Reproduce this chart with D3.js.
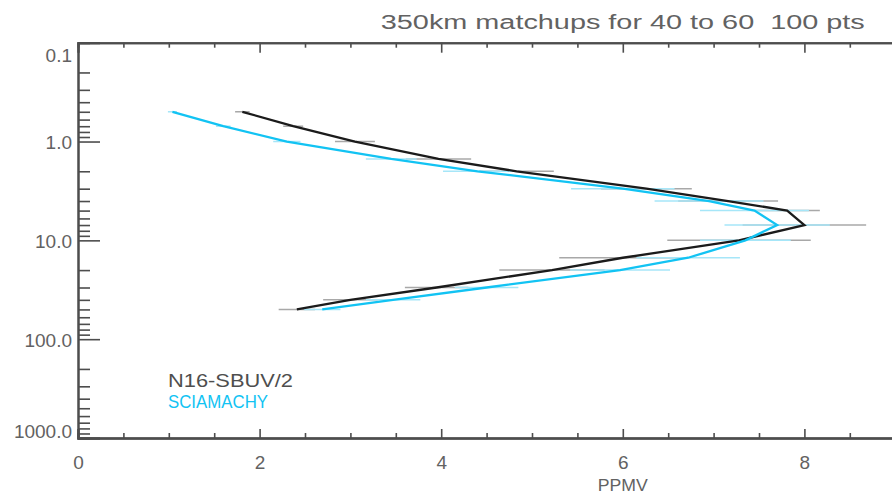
<!DOCTYPE html>
<html>
<head>
<meta charset="utf-8">
<script src="https://cdn.jsdelivr.net/npm/d3@7/dist/d3.min.js"></script>
<style>
  html, body { margin: 0; padding: 0; background: #fff; }
  svg { display: block; }
  text { font-family: "Liberation Sans", "DejaVu Sans", sans-serif; fill: #626262; white-space: pre; }
</style>
</head>
<body>
<svg id="chart" width="892" height="496"></svg>
<script>
// Ozone profile comparison: mean mixing ratio (ppmv) vs pressure (hPa) with ±1σ bars
const pressure = [0.5, 0.7, 1, 1.5, 2, 3, 4, 5, 7, 10, 15, 20, 30, 40, 50];
const sbuvMean = [1.81, 2.37, 3.05, 3.97, 4.83, 6.26, 7.16, 7.81, 8.0, 7.28, 6.0, 5.22, 3.95, 3.0, 2.41];
const sbuvSd   = [0.08, 0.11, 0.22, 0.36, 0.41, 0.5, 0.55, 0.36, 0.68, 0.79, 0.7, 0.58, 0.35, 0.3, 0.2];
const sciaMean = [1.04, 1.6, 2.3, 3.45, 4.4, 6.0, 6.95, 7.45, 7.7, 7.35, 6.72, 5.97, 4.5, 3.47, 2.69];
const sciaSd   = [0.05, 0.08, 0.15, 0.28, 0.38, 0.57, 0.6, 0.6, 0.58, 0.5, 0.57, 0.55, 0.35, 0.3, 0.2];

const seriesNames = ["N16-SBUV/2", "SCIAMACHY"];
const pressureTicks = [0.1, 1, 10, 100, 1000];
const ppmvTicks = [0, 2, 4, 6, 8];
const ppmvTicksBeyond = [10, 12];
const titleText = "350km matchups for 40 to 60  100 pts";
const xTitle = "PPMV";

const lineColors = ["#1b1b1b", "#12c3f3"];
const barColors = ["#a8a8a8", "#a6e6f8"];
const axisColor = "#4d4d4d";
const textColor = "#626262";

const svg = d3.select("#chart");

// Plot frame: the x axis spans 0–12 ppmv; its right part runs past the window edge.
const plotLeft = 78, plotTop = 42.7, plotBottom = 438, unit = 90.8;
const x = d3.scaleLinear().domain([0, 12]).range([plotLeft, plotLeft + 12 * unit]);
const y = d3.scaleLog().domain([0.1, 1000]).range([plotTop, plotBottom]);

// minor ticks
const minorP = [];
for (let d = 0.1; d < 1000; d *= 10) for (let k = 2; k <= 9; k++) minorP.push(+(d * k).toPrecision(3));
const minorX = d3.range(0, 12.01, 0.5).filter(v => v % 2 !== 0);

function styleAxis(g) {
  g.select(".domain").attr("stroke", axisColor).attr("stroke-width", 2);
  g.selectAll(".tick line").attr("stroke", axisColor).attr("stroke-width", 1.6);
  g.selectAll("text").attr("fill", textColor).attr("font-size", 19)
    .attr("font-family", '"Liberation Sans", "DejaVu Sans", sans-serif');
}

// left axis
svg.append("g").attr("transform", `translate(${plotLeft},0)`)
  .call(d3.axisLeft(y).tickValues(minorP).tickSize(-12).tickFormat(""))
  .call(styleAxis);
const yAxis = svg.append("g").attr("transform", `translate(${plotLeft},0)`)
  .call(d3.axisLeft(y).tickValues(pressureTicks).tickSize(-22).tickPadding(6).tickFormat(d3.format(".1f")))
  .call(styleAxis);
yAxis.selectAll(".tick text")
  .attr("dy", d => d === 0.1 ? "1.0em" : d === 1000 ? "-0.05em" : "0.36em");

// bottom axis
svg.append("g").attr("transform", `translate(0,${plotBottom})`)
  .call(d3.axisBottom(x).tickValues(minorX).tickSize(-5).tickFormat(""))
  .call(styleAxis);
svg.append("g").attr("transform", `translate(0,${plotBottom})`)
  .call(d3.axisBottom(x).tickValues(ppmvTicksBeyond).tickSize(-9).tickFormat(""))
  .call(styleAxis);
svg.append("g").attr("transform", `translate(0,${plotBottom})`)
  .call(d3.axisBottom(x).tickValues(ppmvTicks).tickSize(-9).tickPadding(18).tickFormat(d3.format("d")))
  .call(styleAxis);

// top axis
svg.append("g").attr("transform", `translate(0,${plotTop})`)
  .call(d3.axisTop(x).tickValues(minorX).tickSize(-5).tickFormat(""))
  .call(styleAxis);
svg.append("g").attr("transform", `translate(0,${plotTop})`)
  .call(d3.axisTop(x).tickValues(ppmvTicks.concat(ppmvTicksBeyond)).tickSize(-10).tickFormat(""))
  .call(styleAxis);

// series
const series = [
  { name: seriesNames[0], mean: sbuvMean, sd: sbuvSd },
  { name: seriesNames[1], mean: sciaMean, sd: sciaSd }
].map((s, i) => ({
  ...s,
  i,
  pts: pressure.map((p, j) => ({ p, v: s.mean[j], sd: s.sd[j] }))
}));

const plot = svg.append("g");

// error bars underneath the profiles
series.forEach(s => {
  plot.append("g").selectAll("line").data(s.pts).join("line")
    .attr("x1", d => x(d.v - d.sd)).attr("x2", d => x(d.v + d.sd))
    .attr("y1", d => y(d.p)).attr("y2", d => y(d.p))
    .attr("stroke", barColors[s.i]).attr("stroke-width", 1.5);
});

const line = d3.line().x(d => x(d.v)).y(d => y(d.p));
series.forEach(s => {
  plot.append("path").datum(s.pts)
    .attr("d", line)
    .attr("fill", "none")
    .attr("stroke", lineColors[s.i])
    .attr("stroke-width", 2.3)
    .attr("stroke-linejoin", "miter");
});

// legend
const legend = svg.append("g");
const legendLen = [125, 100];
seriesNames.forEach((n, i) => {
  legend.append("text")
    .attr("x", 168).attr("y", 387 + i * 21)
    .attr("font-size", 18)
    .attr("textLength", legendLen[i]).attr("lengthAdjust", "spacingAndGlyphs")
    .style("fill", i === 0 ? "#4e4e4e" : lineColors[1])
    .text(n);
});

// titles
svg.append("text")
  .attr("x", x(6)).attr("y", 29)
  .attr("text-anchor", "middle")
  .attr("font-size", 20)
  .attr("textLength", 484).attr("lengthAdjust", "spacingAndGlyphs")
  .text(titleText);

svg.append("text")
  .attr("x", x(6)).attr("y", 491)
  .attr("text-anchor", "middle")
  .attr("font-size", 16)
  .attr("textLength", 50).attr("lengthAdjust", "spacingAndGlyphs")
  .text(xTitle);
</script>
</body>
</html>
